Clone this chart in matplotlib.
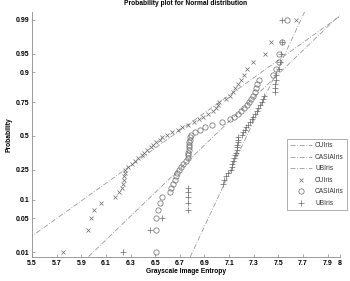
import math
from statistics import NormalDist
import numpy as np
import matplotlib
matplotlib.use('Agg')
import matplotlib.pyplot as plt

# sorted entropy values per database (50 images each)
cu_iris = [5.75, 5.952, 5.98, 6.006, 6.063, 6.174, 6.209, 6.23, 6.24, 6.245,
           6.25, 6.252, 6.255, 6.283, 6.312, 6.336, 6.364, 6.393, 6.413, 6.437,
           6.462, 6.486, 6.51, 6.535, 6.559, 6.596, 6.636, 6.685, 6.717, 6.766,
           6.815, 6.855, 6.888, 6.929, 6.969, 6.994, 7.01, 7.02, 7.075, 7.107,
           7.131, 7.148, 7.172, 7.196, 7.221, 7.245, 7.294, 7.391, 7.44, 7.643]
casia_iris = [6.506, 6.506, 6.51, 6.525, 6.539, 6.555, 6.62, 6.632, 6.644, 6.657,
              6.669, 6.681, 6.693, 6.709, 6.726, 6.75, 6.766, 6.77, 6.77, 6.774,
              6.774, 6.774, 6.778, 6.782, 6.782, 6.79, 6.823, 6.864, 6.904, 6.961,
              7.042, 7.107, 7.14, 7.172, 7.196, 7.221, 7.245, 7.261, 7.278, 7.294,
              7.31, 7.318, 7.326, 7.343, 7.456, 7.48, 7.505, 7.505, 7.53, 7.57]
ub_iris = [6.24, 6.458, 6.553, 6.766, 6.766, 6.766, 6.766, 6.766, 7.05, 7.062,
           7.075, 7.09, 7.115, 7.12, 7.125, 7.131, 7.14, 7.148, 7.156, 7.16,
           7.164, 7.168, 7.172, 7.172, 7.176, 7.205, 7.213, 7.225, 7.237, 7.253,
           7.27, 7.282, 7.294, 7.31, 7.326, 7.338, 7.35, 7.37, 7.375, 7.38,
           7.472, 7.472, 7.476, 7.48, 7.48, 7.505, 7.513, 7.521, 7.53, 7.53]
names = ['CUIris', 'CASIAIris', 'UBIris']
markers = ['x', 'o', '+']
prob_ticks = [0.01, 0.05, 0.1, 0.25, 0.5, 0.75, 0.9, 0.95, 0.99]
x_ticks = [5.5, 5.7, 5.9, 6.1, 6.3, 6.5, 6.7, 6.9, 7.1, 7.3, 7.5, 7.7, 7.9, 8]

nd = NormalDist()
_inv = np.vectorize(nd.inv_cdf, otypes=[float])
_cdf = np.vectorize(lambda v: 0.5 * math.erfc(-v / math.sqrt(2)), otypes=[float])


def p_to_z(p):
    p = np.clip(np.asarray(p, dtype=float), 1e-12, 1 - 1e-12)
    return _inv(p)


def z_to_p(z):
    return _cdf(np.asarray(z, dtype=float))


plt.rcParams['font.family'] = ['Liberation Sans', 'DejaVu Sans']

fig = plt.figure(figsize=(3.5, 2.81), dpi=100)
ax = fig.add_axes([32 / 350, 24 / 281, 308 / 350, 245 / 281])
ax.set_yscale('function', functions=(p_to_z, z_to_p))

line_col = '#9a9a9a'
mark_col = '#6a6a6a'
ms = {'x': 2.8, 'o': 3.8, '+': 4.0}

series = [cu_iris, casia_iris, ub_iris]
zq = nd.inv_cdf(0.75)
# reference lines through 1st and 3rd quartiles (like normplot)
for data, name in zip(series, names):
    q1, q3 = np.percentile(data, [25, 75], method='hazen')
    slope = 2 * zq / (q3 - q1)
    zz = np.array([-3.3, 3.3])
    xx = q1 + (zz + zq) / slope
    ax.plot(xx, z_to_p(zz), linestyle=(0, (6, 2, 1, 2)), color=line_col,
            lw=0.6, label=name)

for data, name, mk in zip(series, names, markers):
    n = len(data)
    pos = (np.arange(1, n + 1) - 0.5) / n
    ax.plot(data, pos, linestyle='none', marker=mk, ms=ms[mk], mew=0.5,
            mfc='none', color=mark_col, label=name)

ax.set_xlim(5.5, 8)
ax.set_ylim(z_to_p(-2.425), z_to_p(2.485))
ax.set_xticks(x_ticks)
ax.set_xticklabels([f'{v:g}' for v in x_ticks])
ax.set_yticks(prob_ticks)
ax.set_yticklabels([f'{v:g}' for v in prob_ticks])
ax.yaxis.set_minor_locator(matplotlib.ticker.NullLocator())

for s in ['top', 'right']:
    ax.spines[s].set_visible(False)
for s in ['left', 'bottom']:
    ax.spines[s].set_color('#8a8a8a')
    ax.spines[s].set_linewidth(0.6)
ax.tick_params(direction='in', length=2.5, width=0.5, color='#8a8a8a',
               labelsize=5, pad=2)
for lab in ax.get_xticklabels() + ax.get_yticklabels():
    lab.set_fontweight('bold')

ax.set_title('Probability plot for Normal distribution', fontsize=4.8,
             fontweight='bold', pad=5)
ax.set_xlabel('Grayscale Image Entropy', fontsize=4.8, fontweight='bold',
              labelpad=1)
ax.set_ylabel('Probability', fontsize=4.8, fontweight='bold', labelpad=2)

leg = ax.legend(loc='upper left', bbox_to_anchor=(287 / 350, 1 - 139 / 281),
                bbox_transform=fig.transFigure, fontsize=4.8, frameon=True,
                fancybox=False, handlelength=3.2, handletextpad=0.5,
                labelspacing=0.68, borderpad=0.5, borderaxespad=0)
leg.get_frame().set_edgecolor('#8a8a8a')
leg.get_frame().set_linewidth(0.6)
for t in leg.get_texts():
    t.set_color('#333333')

fig.savefig('out.png', dpi=100)
